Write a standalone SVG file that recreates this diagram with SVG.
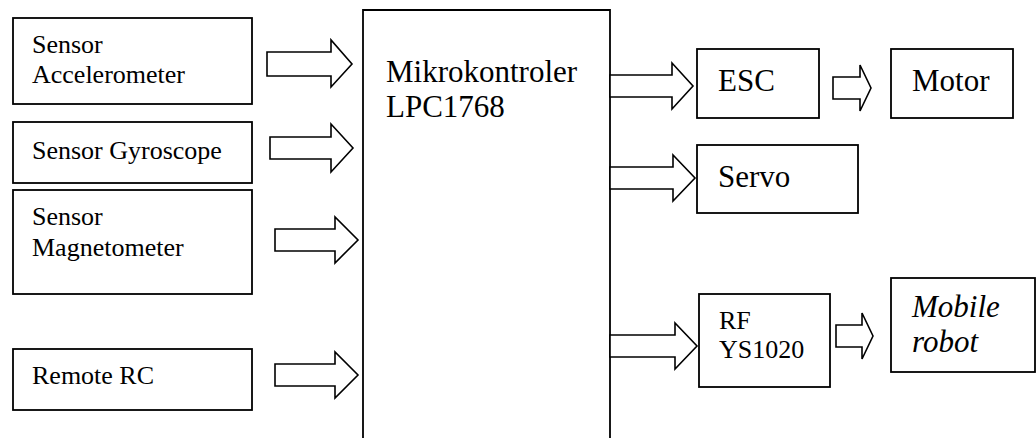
<svg xmlns="http://www.w3.org/2000/svg" width="1036" height="438" viewBox="0 0 1036 438">
<style>
.box{fill:#fff;stroke:#000;stroke-width:1.8}
.arr{fill:#fff;stroke:#000;stroke-width:1.6;stroke-linejoin:miter}
text{font-family:'Liberation Serif','Times New Roman',serif;fill:#000}
.s{font-size:26px}
.l{font-size:31px}
.i{font-style:italic}
</style>
<rect width="1036" height="438" fill="#fff"/>
<g id="node-accel">
<rect class="box" x="13" y="18" width="239" height="86"/>
<text class="s" x="32" y="53">Sensor</text>
<text class="s" x="32" y="83">Accelerometer</text>
</g>
<g id="node-gyro">
<rect class="box" x="13" y="122" width="239" height="61"/>
<text class="s" x="32" y="159">Sensor Gyroscope</text>
</g>
<g id="node-magneto">
<rect class="box" x="13" y="190" width="239" height="104"/>
<text class="s" x="32" y="225">Sensor</text>
<text class="s" x="32" y="256">Magnetometer</text>
</g>
<g id="node-remote">
<rect class="box" x="13" y="349" width="239" height="61"/>
<text class="s" x="32" y="384">Remote RC</text>
</g>
<g id="node-mcu">
<path class="box" d="M363,440 V10 H610 V440"/>
<text class="l" x="386" y="82">Mikrokontroler</text>
<text class="l" x="386" y="117">LPC1768</text>
</g>
<g id="node-esc">
<rect class="box" x="697" y="49" width="122" height="69"/>
<text class="l" x="718" y="91">ESC</text>
</g>
<g id="node-motor">
<rect class="box" x="891" y="49" width="122" height="69"/>
<text class="l" x="912" y="91">Motor</text>
</g>
<g id="node-servo">
<rect class="box" x="697" y="145" width="161" height="68"/>
<text class="l" x="718" y="187">Servo</text>
</g>
<g id="node-rf">
<rect class="box" x="699" y="294" width="131" height="93"/>
<text class="s" x="719" y="329">RF</text>
<text class="s" x="719" y="358">YS1020</text>
</g>
<g id="node-mobile">
<rect class="box" x="891" y="278" width="144" height="94"/>
<text class="l i" x="912" y="317">Mobile</text>
<text class="l i" x="912" y="352">robot</text>
</g>
<g id="connectors">
<polygon class="arr" points="267,52 331,52 331,40 352,64 331,87 331,76 267,76"/>
<polygon class="arr" points="270,137 331,137 331,124 353,148 331,172 331,159 270,159"/>
<polygon class="arr" points="275,229 335,229 335,217 358,240 335,263 335,251 275,251"/>
<polygon class="arr" points="275,364 335,364 335,352 358,375 335,398 335,386 275,386"/>
<polygon class="arr" points="610,75 672,75 672,63 693,86 672,109 672,97 610,97"/>
<polygon class="arr" points="610,167 673,167 673,155 695,178 673,201 673,189 610,189"/>
<polygon class="arr" points="610,335 675,335 675,323 697,346 675,369 675,357 610,357"/>
<polygon class="arr" points="833,77 860,77 860,65 871,88 860,111 860,99 833,99"/>
<polygon class="arr" points="836,325 862,325 862,313 873,336 862,359 862,347 836,347"/>
</g>
</svg>
